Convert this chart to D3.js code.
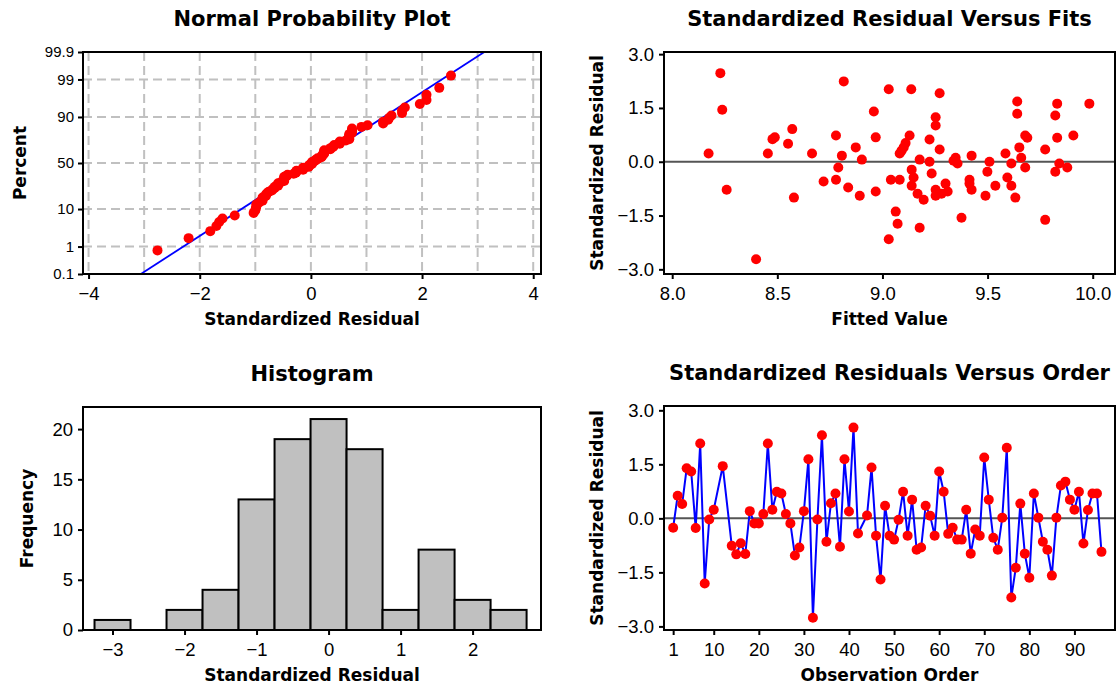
<!DOCTYPE html>
<html>
<head>
<meta charset="utf-8">
<script src="https://cdn.jsdelivr.net/npm/d3@7"></script>
<style>
  body { margin: 0; background: #fff; }
  svg text { font-family: "Liberation Sans", Arial, sans-serif; fill: #000; }
  .ttl { font-family: "DejaVu Sans", sans-serif !important; font-weight: bold; font-size: 21px; }
  .lab { font-family: "DejaVu Sans", sans-serif !important; font-weight: bold; font-size: 17px; }
  .tk { font-size: 18.5px; }
  .tks { font-size: 15px; }
</style>
</head>
<body>
<div id="chart"></div>
<script>
// standardized residuals in observation order (null = missing row)
var obsResid = [-0.26, 0.63, 0.40, 1.39, 1.30, -0.27, 2.08, -1.81, -0.03, 0.24,
  null, 1.45, null, -0.76, -1.00, -0.69, -0.99, 0.20, -0.14, -0.14,
  0.12, 2.08, 0.24, 0.74, 0.69, 0.12, -0.14, -1.03, -0.81, 0.20,
  1.64, -2.76, -0.03, 2.31, -0.65, 0.42, 0.69, -0.79, 1.64, 0.19,
  2.52, -0.42, null, 0.08, 1.41, -0.48, -1.70, 0.35, -0.48, -0.59,
  -0.04, 0.74, -0.48, 0.52, -0.87, -0.81, 0.35, 0.07, -0.48, 1.30,
  0.74, -0.43, -0.26, -0.59, -0.59, 0.24, -0.98, -0.31, -0.48, 1.69,
  0.52, -0.54, -0.87, 0.02, 1.96, -2.20, -1.37, 0.41, -0.98, -1.65,
  0.69, 0.02, -0.65, -0.87, -1.59, 0.02, 0.91, 1.02, 0.52, 0.24,
  0.74, -0.70, 0.23, 0.69, 0.69, -0.93];

// residual versus fits scatter
var fitValue = [8.229, 8.238, 8.173, 8.259, 8.399, 8.455, 8.477, 8.488, 8.551, 8.571,
  8.579, 8.665, 8.720, 8.779, 8.779, 8.790, 8.807, 8.816, 8.837, 8.873,
  8.892, 8.902, 8.959, 8.968, 8.968, 9.030, 9.040, 9.030, 9.137, 9.272,
  9.253, 9.253, 9.129, 9.110, 9.101, 9.091, 9.082, 9.224, 9.272, 9.177,
  9.224, 9.139, 9.148, 9.139, 9.082, 9.167, 9.196, 9.234, 9.253, 9.253,
  9.281, 9.300, 9.310, 9.063, 9.072, 9.177, 9.348, 9.338, 9.357, 9.424,
  9.414, 9.414, 9.424, 9.376, 9.490, 9.499, 9.509, 9.537, 9.585, 9.594,
  9.613, 9.613, 9.632, 9.641, 9.641, 9.651, 9.660, 9.679, 9.679, 9.689,
  9.774, 9.774, 9.822, 9.831, 9.831, 9.841, 9.822, 9.879, 9.908, 9.984];
var fitResid = [2.47, 1.45, 0.23, -0.78, -2.72, 0.23, 0.63, 0.68, 0.50, 0.91,
  -1.00, 0.23, -0.55, 0.73, -0.50, -0.16, 0.17, 2.24, -0.72, 0.40,
  -0.95, 0.06, 1.40, 0.68, -0.83, 2.02, -0.50, -2.16, 2.02, 1.91,
  1.24, 1.01, 0.73, 0.52, 0.40, 0.31, 0.23, 0.62, 0.34, 0.06,
  0.00, -0.22, -0.44, -0.67, -0.50, -0.89, -1.06, -0.33, -0.78, -0.95,
  -0.89, -0.61, -0.83, -1.39, -1.73, -1.84, 0.11, 0.03, -0.05, 0.17,
  -0.50, -0.61, -0.78, -1.56, -0.95, -0.28, 0.00, -0.67, 0.23, -0.44,
  -0.05, -0.67, -1.00, 1.68, 1.34, 0.40, 0.11, -0.16, 0.73, 0.67,
  0.34, -1.62, 1.29, 1.62, 0.67, -0.05, -0.28, -0.16, 0.73, 1.62];

// histogram
var histMids = [-3, -2.5, -2, -1.5, -1, -0.5, 0, 0.5, 1, 1.5, 2, 2.5];
var histCounts = [1, 0, 2, 4, 13, 19, 21, 18, 2, 8, 3, 2];

// tick labels
var pctTicks = [0.1, 1, 10, 50, 90, 99, 99.9];
var normXTicks = [-4, -2, 0, 2, 4];
var normGridX = [-4, -3, -2, -1, 0, 1, 2, 3, 4];
var fitXTicks = [8.0, 8.5, 9.0, 9.5, 10.0];
var residTicks = [-3.0, -1.5, 0.0, 1.5, 3.0];
var histXTicks = [-3, -2, -1, 0, 1, 2];
var histYTicks = [0, 5, 10, 15, 20];
var orderTicks = [1, 10, 20, 30, 40, 50, 60, 70, 80, 90];

// inverse normal cdf (Acklam)
function probit(p) {
  var a = [-39.69683028665376, 220.9460984245205, -275.9285104469687, 138.3577518672690, -30.66479806614716, 2.506628277459239];
  var b = [-54.47609879822406, 161.5858367580409, -155.6989798598866, 66.80131188771972, -13.28068155288572];
  var c = [-0.007784894002430293, -0.3223964580411365, -2.400758277161838, -2.549732539343734, 4.374664141464968, 2.938163982698783];
  var d = [0.007784695709041462, 0.3224671290700398, 2.445134137142996, 3.754408661907416];
  var q, r;
  if (p < 0.02425) {
    q = Math.sqrt(-2 * Math.log(p));
    return (((((c[0]*q+c[1])*q+c[2])*q+c[3])*q+c[4])*q+c[5]) / ((((d[0]*q+d[1])*q+d[2])*q+d[3])*q+1);
  }
  if (p > 1 - 0.02425) {
    q = Math.sqrt(-2 * Math.log(1 - p));
    return -(((((c[0]*q+c[1])*q+c[2])*q+c[3])*q+c[4])*q+c[5]) / ((((d[0]*q+d[1])*q+d[2])*q+d[3])*q+1);
  }
  q = p - 0.5; r = q * q;
  return (((((a[0]*r+a[1])*r+a[2])*r+a[3])*r+a[4])*r+a[5])*q / (((((b[0]*r+b[1])*r+b[2])*r+b[3])*r+b[4])*r+1);
}

var svg = d3.select("#chart").append("svg")
  .attr("width", 1117)
  .attr("height", 687);

// plot boxes
var p1 = {l: 83, r: 541, t: 52, b: 274};
var p2 = {l: 664, r: 1115, t: 52, b: 274};
var p3 = {l: 83, r: 541, t: 407, b: 630};
var p4 = {l: 664, r: 1115, t: 406, b: 630};

function decorate(box, title, xlab, ylab, ylabX) {
  var cx = (box.l + box.r) / 2, cy = (box.t + box.b) / 2;
  svg.append("text").attr("class", "ttl").attr("x", cx).attr("y", box.t - 26)
    .attr("text-anchor", "middle").text(title);
  svg.append("text").attr("class", "lab").attr("x", cx).attr("y", box.b + 51)
    .attr("text-anchor", "middle").text(xlab);
  svg.append("text").attr("class", "lab")
    .attr("transform", `translate(${ylabX},${cy}) rotate(-90)`)
    .attr("text-anchor", "middle").text(ylab);
}

function frame(box) {
  svg.append("rect")
    .attr("x", box.l).attr("y", box.t)
    .attr("width", box.r - box.l).attr("height", box.b - box.t)
    .attr("fill", "none").attr("stroke", "#000").attr("stroke-width", 2);
}

function axes(box, xs, ys, xt, yt, xfmt, yfmt, ycls, ypad) {
  var gx = svg.append("g").attr("transform", `translate(0,${box.b})`)
    .call(d3.axisBottom(xs).tickValues(xt).tickFormat(xfmt).tickSize(5).tickSizeOuter(0).tickPadding(8));
  var gy = svg.append("g").attr("transform", `translate(${box.l},0)`)
    .call(d3.axisLeft(ys).tickValues(yt).tickFormat(yfmt).tickSize(5).tickSizeOuter(0).tickPadding(ypad));
  [gx, gy].forEach(function (g) {
    g.select(".domain").remove();
    g.selectAll(".tick line").attr("stroke", "#000").attr("stroke-width", 2);
  });
  gx.selectAll("text").attr("class", "tk").attr("font-family", null).attr("font-size", null);
  gy.selectAll("text").attr("class", ycls).attr("font-family", null).attr("font-size", null);
}

// ---------- Normal probability plot ----------
var resid = obsResid.filter(function (v) { return v !== null; });
var sorted = resid.slice().sort(d3.ascending);
var n = sorted.length;
var mu = d3.mean(resid), sd = d3.deviation(resid);

var x1 = d3.scaleLinear().domain([-4.1, 4.14]).range([p1.l, p1.r]);
var y1 = d3.scaleLinear().domain([probit(0.001), probit(0.999)]).range([p1.b, p1.t]);

svg.append("g").selectAll("line.gv").data(normGridX).enter().append("line")
  .attr("x1", function (d) { return x1(d); }).attr("x2", function (d) { return x1(d); })
  .attr("y1", p1.t).attr("y2", p1.b)
  .attr("stroke", "#c0c0c0").attr("stroke-width", 2).attr("stroke-dasharray", "9,5");
svg.append("g").selectAll("line.gh").data(pctTicks.slice(1, 6)).enter().append("line")
  .attr("x1", p1.l).attr("x2", p1.r)
  .attr("y1", function (d) { return y1(probit(d / 100)); })
  .attr("y2", function (d) { return y1(probit(d / 100)); })
  .attr("stroke", "#c0c0c0").attr("stroke-width", 2).attr("stroke-dasharray", "9,5");

svg.append("defs").append("clipPath").attr("id", "clip1").append("rect")
  .attr("x", p1.l).attr("y", p1.t).attr("width", p1.r - p1.l).attr("height", p1.b - p1.t);

svg.append("line").attr("clip-path", "url(#clip1)")
  .attr("x1", x1(mu + sd * probit(0.001))).attr("y1", y1(probit(0.001)))
  .attr("x2", x1(mu + sd * probit(0.999))).attr("y2", y1(probit(0.999)))
  .attr("stroke", "#0000ff").attr("stroke-width", 1.8);

svg.append("g").selectAll("circle").data(sorted).enter().append("circle")
  .attr("cx", function (d) { return x1(d); })
  .attr("cy", function (d, i) { return y1(probit((i + 1 - 0.3) / (n + 0.4))); })
  .attr("r", 5).attr("fill", "#ff0000");

frame(p1);
axes(p1, x1, y1, normXTicks, pctTicks.map(function (p) { return probit(p / 100); }),
  d3.format("d"), function (d, i) { return String(pctTicks[i]); }, "tks", 4);
decorate(p1, "Normal Probability Plot", "Standardized Residual", "Percent", 25.5);

// ---------- Residual versus fits ----------
var x2 = d3.scaleLinear().domain([7.961, 10.106]).range([p2.l, p2.r]);
var y2 = d3.scaleLinear().domain([-3.13, 3.06]).range([p2.b, p2.t]);

svg.append("line").attr("x1", p2.l).attr("x2", p2.r).attr("y1", y2(0)).attr("y2", y2(0))
  .attr("stroke", "#555").attr("stroke-width", 2);
svg.append("g").selectAll("circle").data(fitValue).enter().append("circle")
  .attr("cx", function (d) { return x2(d); })
  .attr("cy", function (d, i) { return y2(fitResid[i]); })
  .attr("r", 5).attr("fill", "#ff0000");
frame(p2);
axes(p2, x2, y2, fitXTicks, residTicks, d3.format(".1f"), d3.format(".1f"), "tk", 5);
decorate(p2, "Standardized Residual Versus Fits", "Fitted Value", "Standardized Residual", 602.5);

// ---------- Histogram ----------
var x3 = d3.scaleLinear().domain([-3.41, 2.95]).range([p3.l, p3.r]);
var y3 = d3.scaleLinear().domain([0, 22.2]).range([p3.b, p3.t]);

svg.append("g").selectAll("rect").data(histMids).enter()
  .filter(function (d, i) { return histCounts[i] > 0; })
  .append("rect")
  .attr("x", function (d) { return x3(d - 0.25); })
  .attr("width", function (d) { return x3(d + 0.25) - x3(d - 0.25); })
  .attr("y", function (d) { return y3(histCounts[histMids.indexOf(d)]); })
  .attr("height", function (d) { return y3(0) - y3(histCounts[histMids.indexOf(d)]); })
  .attr("fill", "#c0c0c0").attr("stroke", "#000").attr("stroke-width", 2);
frame(p3);
axes(p3, x3, y3, histXTicks, histYTicks, d3.format("d"), d3.format("d"), "tk", 5);
decorate(p3, "Histogram", "Standardized Residual", "Frequency", 33);

// ---------- Residuals versus order ----------
var x4 = d3.scaleLinear().domain([-1.03, 99]).range([p4.l, p4.r]);
var y4 = d3.scaleLinear().domain([-3.1, 3.12]).range([p4.b, p4.t]);
var orderPts = obsResid.map(function (v, i) { return {obs: i + 1, r: v}; })
  .filter(function (d) { return d.r !== null; });

svg.append("line").attr("x1", p4.l).attr("x2", p4.r).attr("y1", y4(0)).attr("y2", y4(0))
  .attr("stroke", "#555").attr("stroke-width", 2);
svg.append("path").datum(orderPts)
  .attr("d", d3.line().x(function (d) { return x4(d.obs); }).y(function (d) { return y4(d.r); }))
  .attr("fill", "none").attr("stroke", "#0000ff").attr("stroke-width", 2);
svg.append("g").selectAll("circle").data(orderPts).enter().append("circle")
  .attr("cx", function (d) { return x4(d.obs); })
  .attr("cy", function (d) { return y4(d.r); })
  .attr("r", 5).attr("fill", "#ff0000");
frame(p4);
axes(p4, x4, y4, orderTicks, residTicks, d3.format("d"), d3.format(".1f"), "tk", 5);
decorate(p4, "Standardized Residuals Versus Order", "Observation Order", "Standardized Residual", 602.5);
</script>
</body>
</html>
